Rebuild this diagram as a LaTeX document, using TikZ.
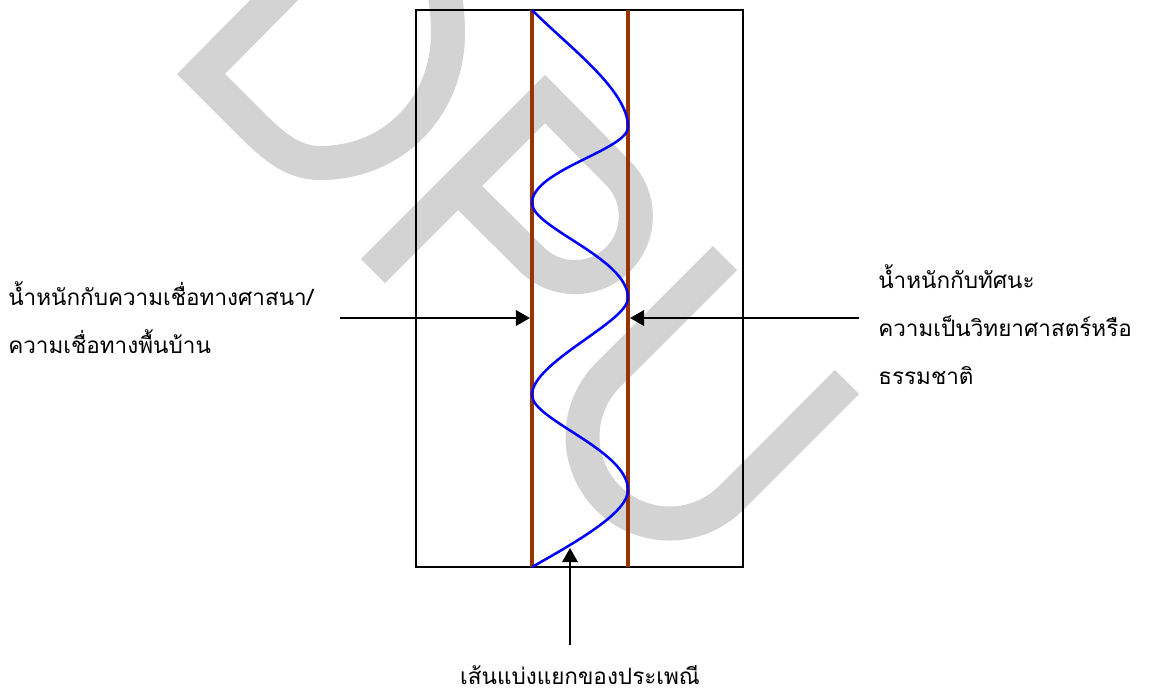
\documentclass[tikz,border=0pt]{standalone}
\usepackage{fontspec}
\newfontfamily\thaifont[Script=Thai]{Loma}
\usepackage{tikz}
\usetikzlibrary{arrows.meta}
\definecolor{rimbrown}{HTML}{993300}
\definecolor{waveblue}{HTML}{0000FF}
\definecolor{markgray}{HTML}{D3D3D3}
\tikzset{
  outerbox/.style={draw, line width=1.4pt},
  divider/.style={draw=rimbrown, line width=2.8pt},
  wave/.style={draw=waveblue, line width=1.8pt},
  pointer/.style={-{Triangle[length=10pt,width=11pt]}, line width=1.4pt},
  sidetext/.style={align=left, inner sep=0pt, font=\fontsize{16}{34}\selectfont\thaifont},
  markstroke/.style={draw=markgray, line width=0.85cm, line join=miter},
}

\begin{document}
\begin{tikzpicture}[x=0.025cm, y=-0.025cm]
  \useasboundingbox (0,0) rectangle (1152,693);

  % watermark letters, behind everything
  \begin{scope}
    \clip (0,0) rectangle (1152,693);
    \draw[markstroke] (300,-26) -- (201,74) -- (245,118)
      .. controls (270,143) and (290,163) .. (320,163)
      .. controls (395,163) and (448,105) .. (448,33)
      .. controls (448,15) and (446,0) .. (442,-20);
    \draw[markstroke] (373,271) -- (545,99) -- (618,173)
      arc[start angle=-45, end angle=135, radius=61] -- (458,186);
    \draw[markstroke] (725,258) -- (608,375)
      arc[start angle=225, end angle=45, radius=87] -- (847,382);
  \end{scope}

  % frame and the two borders
  \coordinate (boxnw) at (416,10);
  \coordinate (boxse) at (743,567);
  \draw[outerbox] (boxnw) rectangle (boxse);
  \coordinate (ltop) at (532,10);
  \coordinate (lbot) at (532,567);
  \coordinate (rtop) at (628,10);
  \coordinate (rbot) at (628,567);
  \draw[divider] (ltop) -- (lbot);
  \draw[divider] (rtop) -- (rbot);

  \draw[wave] (ltop) .. controls (570,48) and (628,90) .. (628,127)
    .. controls (628,150) and (532,170) .. (532,203)
    .. controls (532,228) and (628,258) .. (628,298)
    .. controls (628,322) and (532,362) .. (532,395)
    .. controls (532,420) and (628,450) .. (628,490)
    .. controls (628,512) and (580,540) .. (lbot);

  % labels (base = last line)
  \node[sidetext, anchor=base west] (religion) at (8,353)
    {น้ำหนักกับความเชื่อทางศาสนา/\\ความเชื่อทางพื้นบ้าน};
  \node[sidetext, anchor=base west] (science) at (878,384)
    {น้ำหนักกับทัศนะ\\ความเป็นวิทยาศาสตร์หรือ\\ธรรมชาติ};
  \node[sidetext, anchor=base] (tradition) at (580,684)
    {เส้นแบ่งแยกของประเพณี};

  \coordinate (religiontail) at (340,318);
  \coordinate (religionhead) at (530,318);
  \coordinate (sciencetail) at (859,318);
  \coordinate (sciencehead) at (630,318);
  \coordinate (traditiontail) at (570,645);
  \coordinate (traditionhead) at (570,548);
  \draw[pointer] (religiontail) -- (religionhead);
  \draw[pointer] (sciencetail) -- (sciencehead);
  \draw[pointer] (traditiontail) -- (traditionhead);
\end{tikzpicture}
\end{document}
